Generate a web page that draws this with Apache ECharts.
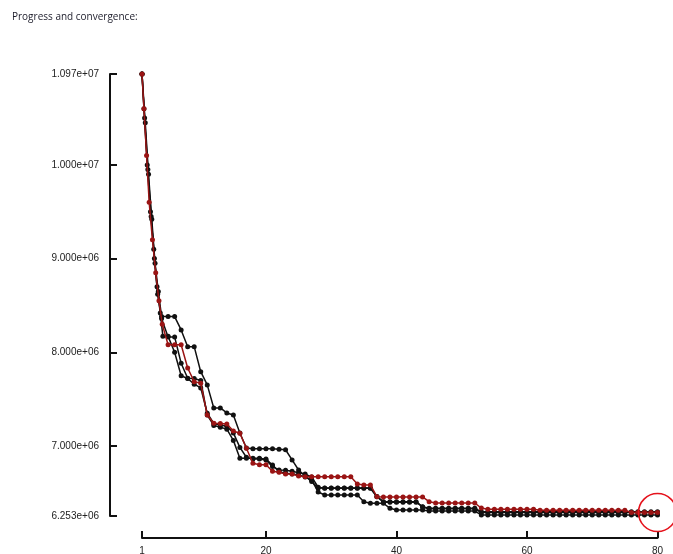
<!DOCTYPE html>
<html>
<head>
<meta charset="utf-8">
<script src="https://cdn.jsdelivr.net/npm/echarts@6/dist/echarts.min.js"></script>
<style>
html,body{margin:0;padding:0;background:#fff;}
#chart{width:673px;height:554px;}
</style>
</head>
<body>
<div id="chart"></div>
<script>
const titleText = 'Progress and convergence:';
const xTickValues = [1, 20, 40, 60, 80];
const yTickValues = [6253000, 7000000, 8000000, 9000000, 10000000, 10970000];

const runA = [
[1,10970000],[1.5,10450000],[2,9900000],[2.5,9420000],[3,8950000],[3.5,8650000],
[4,8381000],[5,8381000],[6,8381000],[7,8239000],[8,8060000],[9,8060000],[10,7793000],[11,7652000],
[12,7406000],[13,7406000],[14,7353000],[15,7331000],[16,7139000],[17,6979000],[18,6970000],[19,6970000],
[20,6970000],[21,6970000],[22,6965000],[23,6960000],[24,6851000],[25,6744000],[26,6680000],[27,6620000],
[28,6552000],[29,6552000],[30,6552000],[31,6552000],[32,6552000],[33,6552000],[34,6552000],[35,6552000],
[36,6552000],[37,6459000],[38,6406000],[39,6406000],[40,6406000],[41,6406000],[42,6406000],[43,6406000],
[44,6352000],[45,6335000],[46,6335000],[47,6335000],[48,6335000],[49,6335000],[50,6335000],[51,6335000],
[52,6335000],[53,6299000],[54,6299000],[55,6299000],[56,6299000],[57,6299000],[58,6299000],[59,6299000],
[60,6299000],[61,6299000],[62,6299000],[63,6299000],[64,6299000],[65,6299000],[66,6299000],[67,6299000],
[68,6299000],[69,6299000],[70,6299000],[71,6299000],[72,6299000],[73,6299000],[74,6299000],[75,6299000],
[76,6299000],[77,6299000],[78,6299000],[79,6299000],[80,6299000]
];

const runB = [
[1,10970000],[1.4,10500000],[1.9,9950000],[2.4,9450000],[2.9,9000000],[3.4,8620000],
[4,8360000],[5,8164000],[6,8164000],[7,7883000],[8,7723000],[9,7720000],[10,7700000],[11,7330000],
[12,7220000],[13,7200000],[14,7180000],[15,7060000],[16,6870000],[17,6870000],[18,6870000],[19,6870000],
[20,6860000],[21,6797000],[22,6726000],[23,6710000],[24,6700000],[25,6690000],[26,6670000],[27,6637000],
[28,6509000],[29,6477000],[30,6477000],[31,6477000],[32,6477000],[33,6477000],[34,6477000],[35,6406000],
[36,6389000],[37,6389000],[38,6389000],[39,6335000],[40,6317000],[41,6317000],[42,6317000],[43,6317000],
[44,6317000],[45,6306000],[46,6306000],[47,6306000],[48,6306000],[49,6306000],[50,6306000],[51,6306000],
[52,6306000],[53,6264000],[54,6264000],[55,6264000],[56,6264000],[57,6264000],[58,6264000],[59,6264000],
[60,6264000],[61,6264000],[62,6264000],[63,6264000],[64,6264000],[65,6264000],[66,6264000],[67,6264000],
[68,6264000],[69,6264000],[70,6264000],[71,6264000],[72,6264000],[73,6264000],[74,6264000],[75,6264000],
[76,6264000],[77,6264000],[78,6264000],[79,6264000],[80,6264000]
];

const runC = [
[1,10970000],[1.3,10600000],[1.8,10000000],[2.3,9500000],[2.8,9100000],[3.3,8700000],
[3.8,8420000],[4.2,8170000],[5,8170000],[6,8000000],[7,7750000],[8,7720000],[9,7660000],[10,7620000],
[11,7350000],[12,7240000],[13,7225000],[14,7210000],[15,7140000],[16,6985000],[17,6880000],[18,6860000],
[19,6860000],[20,6850000],[21,6780000],[22,6745000],[23,6740000],[24,6730000],[25,6715000],[26,6700000],
[27,6670000],[28,6560000],[29,6550000],[30,6550000],[31,6550000],[32,6550000],[33,6550000],[34,6550000],
[35,6550000],[36,6550000],[37,6460000],[38,6400000],[39,6400000],[40,6400000],[41,6400000],[42,6400000],
[43,6400000],[44,6350000],[45,6330000],[46,6330000],[47,6330000],[48,6330000],[49,6330000],[50,6330000],
[51,6330000],[52,6330000],[53,6290000],[54,6290000],[55,6290000],[56,6290000],[57,6290000],[58,6290000],
[59,6290000],[60,6290000],[61,6290000],[62,6290000],[63,6290000],[64,6290000],[65,6290000],[66,6290000],
[67,6290000],[68,6290000],[69,6290000],[70,6290000],[71,6290000],[72,6290000],[73,6290000],[74,6290000],
[75,6290000],[76,6290000],[77,6290000],[78,6290000],[79,6290000],[80,6290000]
];

const runRed = [
[1,10970000],[1.3,10600000],[1.7,10100000],[2.1,9600000],[2.6,9200000],[3.1,8850000],[3.6,8550000],
[4.1,8300000],[5,8080000],[6,8080000],[7,8080000],[8,7833000],[9,7687000],[10,7670000],[11,7331000],
[12,7243000],[13,7240000],[14,7235000],[15,7160000],[16,7136000],[17,6976000],[18,6816000],[19,6800000],
[20,6800000],[21,6730000],[22,6720000],[23,6700000],[24,6700000],[25,6680000],[26,6672000],[27,6672000],
[28,6672000],[29,6672000],[30,6672000],[31,6672000],[32,6672000],[33,6672000],[34,6595000],[35,6584000],
[36,6584000],[37,6459000],[38,6456000],[39,6456000],[40,6456000],[41,6456000],[42,6456000],[43,6456000],
[44,6456000],[45,6406000],[46,6392000],[47,6392000],[48,6392000],[49,6392000],[50,6392000],[51,6392000],
[52,6392000],[53,6338000],[54,6325000],[55,6325000],[56,6325000],[57,6325000],[58,6325000],[59,6325000],
[60,6325000],[61,6325000],[62,6315000],[63,6315000],[64,6315000],[65,6315000],[66,6315000],[67,6315000],
[68,6315000],[69,6315000],[70,6315000],[71,6315000],[72,6315000],[73,6315000],[74,6315000],[75,6315000],
[76,6290000],[77,6290000],[78,6290000],[79,6290000],[80,6290000]
];

function fmtExp(v) {
  const s = Number(v).toExponential(3);
  const parts = s.split('e');
  const sign = parts[1][0];
  let e = parts[1].slice(1);
  if (e.length < 2) e = '0' + e;
  return parts[0] + 'e' + sign + e;
}

const black = '#111111';
const red = '#9a1414';

function lineSeries(data, color, extra) {
  return Object.assign({
    type: 'line',
    data: data,
    symbol: 'circle',
    symbolSize: 5,
    showSymbol: true,
    lineStyle: { color: color, width: 1.5 },
    itemStyle: { color: color },
    emphasis: { disabled: true },
    animation: false,
    z: 2
  }, extra || {});
}

const lastRed = runRed[runRed.length - 1];

const chart = echarts.init(document.getElementById('chart'), null, { renderer: 'canvas' });
chart.setOption({
  backgroundColor: '#ffffff',
  animation: false,
  title: {
    text: titleText,
    left: 12,
    top: 12,
    padding: 0,
    textStyle: { fontFamily: 'Open Sans', fontSize: 10, fontWeight: 'normal', color: '#1c1c2a' }
  },
  grid: { left: 142, right: 15.5, top: 74, bottom: 38, containLabel: false, outerBoundsMode: 'none' },
  xAxis: {
    type: 'value',
    min: 1,
    max: 80,
    offset: 22,
    splitLine: { show: false },
    axisLine: { show: true, lineStyle: { color: '#111', width: 2 } },
    axisTick: { show: true, inside: true, length: 7, lineStyle: { color: '#111', width: 2 }, customValues: xTickValues },
    axisLabel: { show: true, margin: 8, fontFamily: 'Liberation Sans', fontSize: 10, color: '#222', customValues: xTickValues }
  },
  yAxis: {
    type: 'value',
    min: yTickValues[0],
    max: yTickValues[yTickValues.length - 1],
    offset: 32,
    splitLine: { show: false },
    axisLine: { show: true, onZero: false, lineStyle: { color: '#111', width: 2 } },
    axisTick: { show: true, inside: true, length: 7, lineStyle: { color: '#111', width: 2 }, customValues: yTickValues },
    axisLabel: { show: true, margin: 11, fontFamily: 'Liberation Sans', fontSize: 10, color: '#222', customValues: yTickValues, formatter: fmtExp }
  },
  series: [
    lineSeries(runA, black),
    lineSeries(runB, black),
    lineSeries(runC, black),
    lineSeries(runRed, red, {
      z: 3,
      markPoint: {
        symbol: 'circle',
        symbolSize: 38,
        silent: true,
        label: { show: false },
        itemStyle: { color: 'rgba(0,0,0,0)', borderColor: '#e5121c', borderWidth: 1.6 },
        data: [{ coord: [lastRed[0], lastRed[1]] }]
      }
    })
  ]
});
</script>
</body>
</html>
